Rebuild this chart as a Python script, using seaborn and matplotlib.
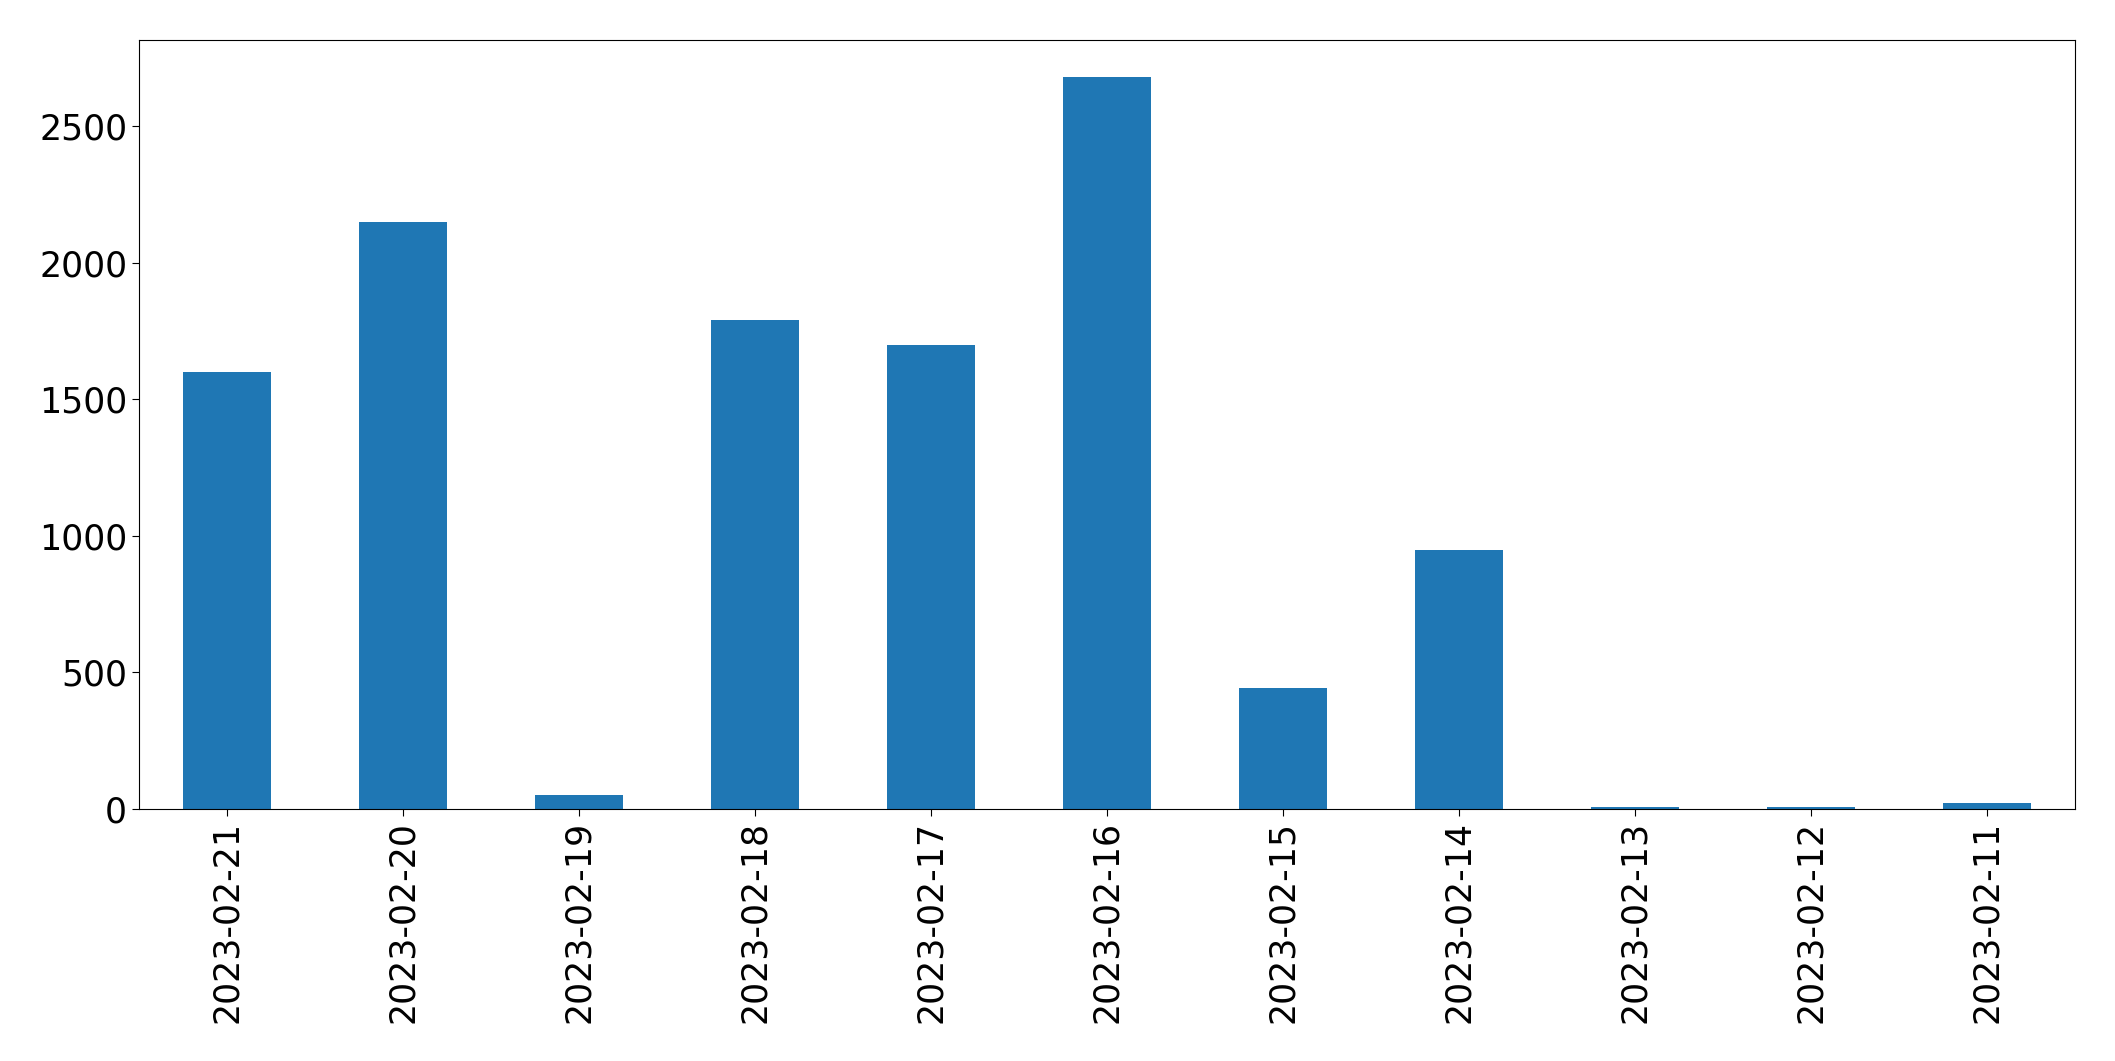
import matplotlib
matplotlib.use("Agg")
import matplotlib.pyplot as plt
import seaborn as sns
import pandas as pd

dates = ["2023-02-21", "2023-02-20", "2023-02-19", "2023-02-18", "2023-02-17",
         "2023-02-16", "2023-02-15", "2023-02-14", "2023-02-13", "2023-02-12",
         "2023-02-11"]
counts = [1600, 2150, 50, 1790, 1700, 2680, 444, 947, 7, 6, 22]

df = pd.DataFrame({"date": dates, "count": counts})

fig, ax = plt.subplots(figsize=(21.15, 10.61), dpi=100)
fig.subplots_adjust(left=0.0657, right=0.981, top=0.962, bottom=0.2375)

sns.barplot(data=df, x="date", y="count", order=dates, color="#1f77b4",
            saturation=1, width=0.5, ax=ax)

ax.set_xlim(-0.5, len(dates) - 0.5)
ax.set_ylim(0, max(counts) * 1.05)
ax.set_xlabel("")
ax.set_ylabel("")
ax.tick_params(axis="both", labelsize=25, length=5)
ax.tick_params(axis="x", labelrotation=90)

plt.savefig("out.png")
plt.close()
